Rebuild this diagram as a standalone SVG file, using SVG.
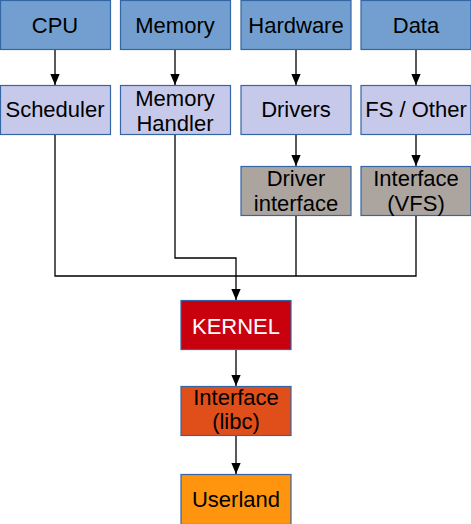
<svg xmlns="http://www.w3.org/2000/svg" width="471" height="524" viewBox="0 0 471 524">
<defs>
<marker id="arr" markerWidth="11" markerHeight="13" refX="13" refY="5.5" orient="auto" markerUnits="userSpaceOnUse" viewBox="0 0 13 11">
<path d="M0,0 L13,5.5 L0,11 Z" fill="#000"/>
</marker>
</defs>
<style>
rect{stroke:#3465a4;stroke-width:1.2}
.top{fill:#729fcf}
.mid{fill:#c6c9e9}
.gray{fill:#aca59f}
.kern{fill:#c9000e}
.libc{fill:#e04e1a}
.user{fill:#ff950e}
text{font-family:"Liberation Sans",Arial,sans-serif;font-size:22px;text-anchor:middle;fill:#000}
.w{fill:#fff}
.c path{fill:none;stroke:#000;stroke-width:1.3}
</style>
<g id="cpu"><rect class="top" x="0.5" y="0.5" width="110" height="49"/><text x="55" y="33">CPU</text></g>
<g id="memory"><rect class="top" x="120.5" y="0.5" width="110" height="49"/><text x="175" y="33">Memory</text></g>
<g id="hardware"><rect class="top" x="241" y="0.5" width="110" height="49"/><text x="296" y="33">Hardware</text></g>
<g id="data"><rect class="top" x="361" y="0.5" width="110" height="49"/><text x="416" y="33">Data</text></g>
<g id="scheduler"><rect class="mid" x="0.5" y="85.5" width="110" height="49"/><text x="55" y="117">Scheduler</text></g>
<g id="memhandler"><rect class="mid" x="120.5" y="85.5" width="110" height="49"/><text x="175" y="106">Memory</text><text x="175" y="131">Handler</text></g>
<g id="drivers"><rect class="mid" x="241" y="85.5" width="110" height="49"/><text x="296" y="117">Drivers</text></g>
<g id="fs"><rect class="mid" x="361" y="85.5" width="110" height="49"/><text x="416" y="117">FS / Other</text></g>
<g id="driverif"><rect class="gray" x="241" y="166.5" width="110" height="49"/><text x="296" y="186">Driver</text><text x="296" y="211">interface</text></g>
<g id="vfs"><rect class="gray" x="361" y="166.5" width="110" height="49"/><text x="416" y="186">Interface</text><text x="416" y="211">(VFS)</text></g>
<g id="kernel"><rect class="kern" x="181" y="300.5" width="110" height="49"/><text class="w" x="236" y="334">KERNEL</text></g>
<g id="libc"><rect class="libc" x="181" y="386.5" width="110" height="49"/><text x="236" y="405">Interface</text><text x="236" y="429">(libc)</text></g>
<g id="userland"><rect class="user" x="181" y="474.5" width="110" height="50"/><text x="236" y="507">Userland</text></g>
<g id="connectors" class="c">
<path d="M55,50 V85" marker-end="url(#arr)"/>
<path d="M175,50 V85" marker-end="url(#arr)"/>
<path d="M296,50 V85" marker-end="url(#arr)"/>
<path d="M416,50 V85" marker-end="url(#arr)"/>
<path d="M296,135 V166" marker-end="url(#arr)"/>
<path d="M416,135 V166" marker-end="url(#arr)"/>
<path d="M55,135 V276 H416 V216"/>
<path d="M296,216 V276"/>
<path d="M175,135 V258 H236 V300" marker-end="url(#arr)"/>
<path d="M236,350 V386" marker-end="url(#arr)"/>
<path d="M236,436 V474" marker-end="url(#arr)"/>
</g>
</svg>
